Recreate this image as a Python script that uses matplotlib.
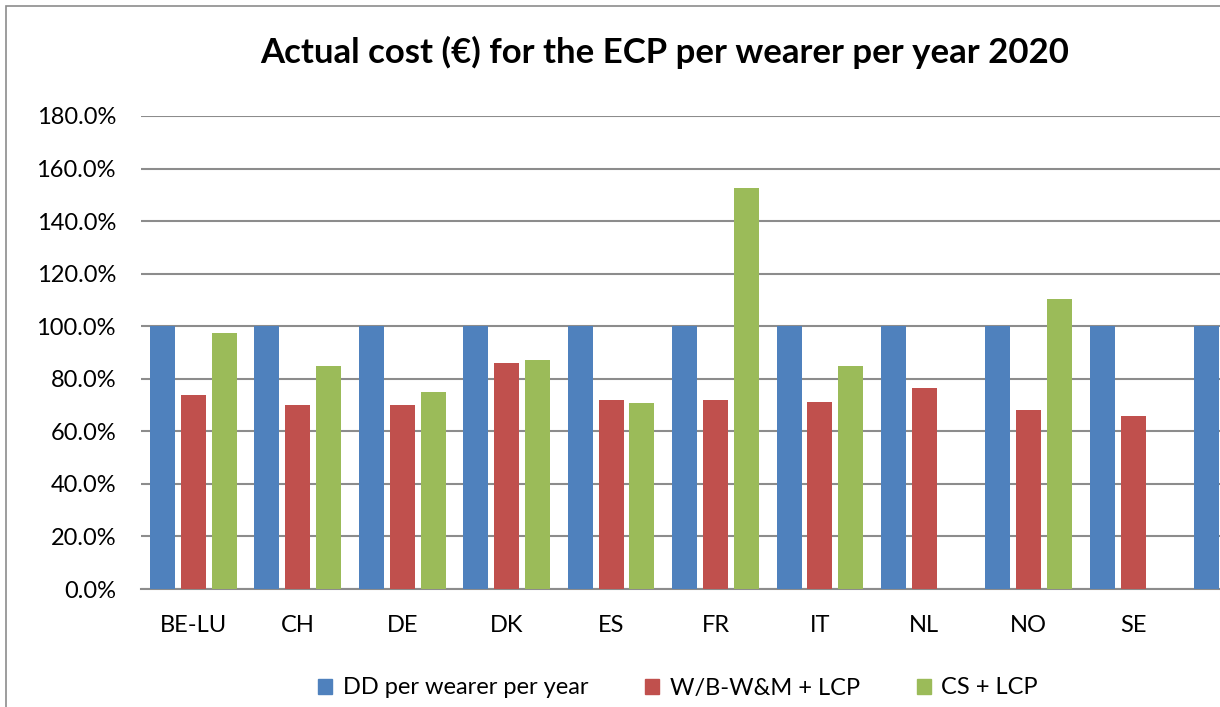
import numpy as np
import matplotlib.pyplot as plt
from matplotlib.patches import Rectangle, Patch

# data (percent)
countries = ['BE-LU', 'CH', 'DE', 'DK', 'ES', 'FR', 'IT', 'NL', 'NO', 'SE', 'UK']
dd_per_wearer = [100, 100, 100, 100, 100, 100, 100, 100, 100, 100, 100]
wb_wm_lcp = [73.8, 70.0, 70.0, 86.0, 71.9, 71.9, 71.2, 76.5, 68.3, 65.8, np.nan]
cs_lcp = [97.4, 84.9, 75.0, 87.1, 70.8, 152.6, 84.9, np.nan, 110.2, np.nan, np.nan]
series_names = ['DD per wearer per year', 'W/B-W&M + LCP', 'CS + LCP']
colors = ['#4F81BD', '#C0504D', '#9BBB59']

plt.rcParams['font.family'] = ['Lato', 'DejaVu Sans']

W, H = 1220, 707
fig = plt.figure(figsize=(W / 100, H / 100), dpi=100)

# chart border (cut off on right and bottom like the reference)
fig.patches.append(Rectangle((6 / W, -0.2), 1.2, 1.2 - 6 / H, transform=fig.transFigure,
                             fill=False, edgecolor='#8c8c8c', lw=1.2, zorder=0))

# plot area runs past the right edge of the figure
left, right, top, bot = 141, 1290, 116, 589
ax = fig.add_axes([left / W, (H - bot) / H, (right - left) / W, (bot - top) / H])

x = np.arange(len(countries))
bw = 0.24
off = 0.296
for i, vals in enumerate([dd_per_wearer, wb_wm_lcp, cs_lcp]):
    ax.bar(x + (i - 1) * off, vals, bw, color=colors[i], zorder=3)

ax.set_xlim(-0.5, len(countries) - 0.5)
ax.set_ylim(0, 180)
ax.set_yticks(np.arange(0, 181, 20))
ax.set_yticklabels([f'{v:.1f}%' for v in np.arange(0, 181, 20)], fontsize=17)
ax.set_xticks(x)
ax.set_xticklabels(countries, fontsize=17)
ax.tick_params(axis='y', length=0, pad=18)
ax.tick_params(axis='x', length=0, pad=19)
ax.grid(axis='y', color='#8c8c8c', lw=1.5, zorder=0)
for s in ['top', 'right', 'left']:
    ax.spines[s].set_visible(False)
ax.spines['bottom'].set_color('#8c8c8c')
ax.spines['bottom'].set_linewidth(1.5)

fig.text(665 / W, (H - 52) / H, 'Actual cost (€) for the ECP per wearer per year 2020',
         ha='center', va='center', fontsize=25, fontweight='bold')

handles = [Patch(color=c) for c in colors]
fig.legend(handles, series_names, loc='center', bbox_to_anchor=(678 / W, (H - 688) / H),
           ncol=3, frameon=False, fontsize=17, handlelength=0.6, handleheight=0.6,
           handletextpad=0.45, columnspacing=2.4)

fig.savefig('out.png', dpi=100)
